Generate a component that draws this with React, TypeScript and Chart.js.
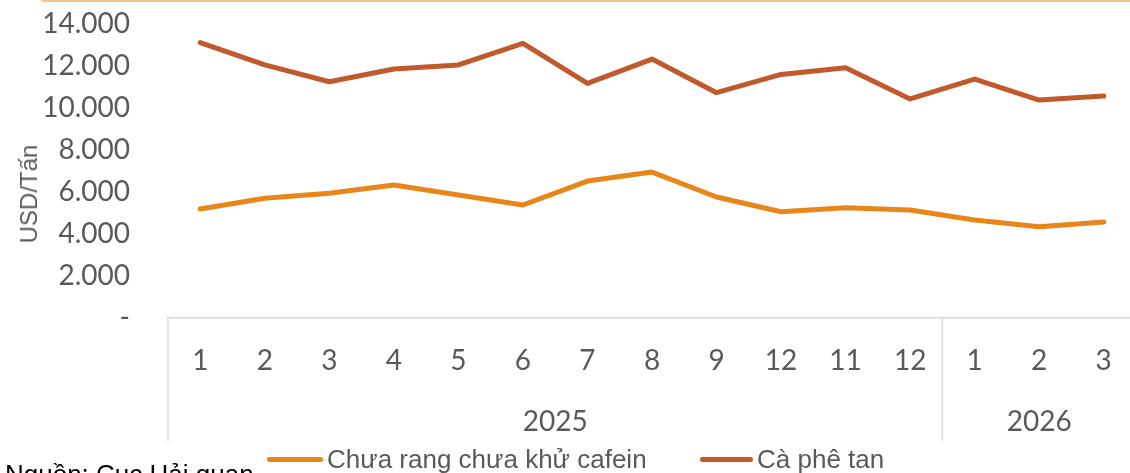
import React, { useEffect, useRef } from 'react';
import { Chart, registerables } from 'chart.js';

Chart.register(...registerables);

// ---- data ----
const months = ['1', '2', '3', '4', '5', '6', '7', '8', '9', '12', '11', '12', '1', '2', '3'];
const yearGroups = ['2025', '2026'];
const yearSpans = [12, 3];
const seriesNames = ['Chưa rang chưa khử cafein', 'Cà phê tan'];
const unroasted = [5190, 5700, 5940, 6330, 5860, 5380, 6520, 6950, 5760, 5060, 5250, 5140, 4670, 4340, 4570];
const instant = [13110, 12050, 11250, 11860, 12050, 13080, 11170, 12330, 10730, 11600, 11920, 10430, 11380, 10380, 10570];
const yMin = 0;
const yMax = 14000;
const yStep = 2000;
const yTitle = 'USD/Tấn';
const sourceNote = 'Nguồn: Cục Hải quan';

const ORANGE = '#E8861A';
const BROWN = '#C05A2C';
const TEXT = '#595959';
const AXIS = '#D9D9D9';
const TICK_FONT = 'Lato, "Open Sans", sans-serif';

const fmt = (v: number) =>
  v === 0 ? '-' : Math.round(v).toString().replace(/\B(?=(\d{3})+(?!\d))/g, '.');

const groupPlugin = {
  id: 'yearGroups',
  afterDraw(chart: any) {
    const x = chart.scales.x;
    const ctx = chart.ctx as CanvasRenderingContext2D;
    const top = x.top;
    ctx.save();
    ctx.font = `28px ${TICK_FONT}`;
    ctx.fillStyle = TEXT;
    ctx.textAlign = 'center';
    ctx.textBaseline = 'middle';
    const bounds: number[] = [x.left];
    let start = 0;
    yearSpans.forEach((span, g) => {
      const end = start + span - 1;
      const right =
        end === months.length - 1
          ? x.right
          : (x.getPixelForValue(end) + x.getPixelForValue(end + 1)) / 2;
      bounds.push(right);
      const cx = (x.getPixelForValue(start) + x.getPixelForValue(end)) / 2;
      ctx.fillText(yearGroups[g], cx, top + 104);
      start += span;
    });
    ctx.strokeStyle = AXIS;
    ctx.lineWidth = 1.5;
    bounds.forEach((b) => {
      ctx.beginPath();
      ctx.moveTo(b, top);
      ctx.lineTo(b, top + 123);
      ctx.stroke();
    });
    ctx.restore();
  },
};

function LineChart() {
  const ref = useRef<HTMLCanvasElement | null>(null);
  useEffect(() => {
    if (!ref.current) return;
    const chart = new Chart(ref.current, {
      type: 'line',
      data: {
        labels: months,
        datasets: [
          {
            label: seriesNames[0],
            data: unroasted,
            borderColor: ORANGE,
            backgroundColor: ORANGE,
            borderWidth: 5,
            pointRadius: 0,
            borderCapStyle: 'round',
            borderJoinStyle: 'round',
            tension: 0,
          },
          {
            label: seriesNames[1],
            data: instant,
            borderColor: BROWN,
            backgroundColor: BROWN,
            borderWidth: 5,
            pointRadius: 0,
            borderCapStyle: 'round',
            borderJoinStyle: 'round',
            tension: 0,
          },
        ],
      },
      options: {
        animation: false,
        responsive: false,
        devicePixelRatio: 1,
        layout: { padding: { top: 24, right: 4, bottom: 0, left: 0 } },
        plugins: { legend: { display: false }, tooltip: { enabled: false }, title: { display: false } },
        scales: {
          x: {
            offset: true,
            grid: { display: false, drawTicks: false },
            border: { display: true, color: AXIS, width: 1.5 },
            ticks: {
              color: TEXT,
              font: { family: TICK_FONT, size: 28 },
              padding: 26,
              maxRotation: 0,
              autoSkip: false,
            },
            afterFit(scale: any) {
              scale.height = 155;
              scale.paddingLeft = 0;
              scale.paddingRight = 0;
            },
          },
          y: {
            min: yMin,
            max: yMax,
            grid: { display: false, drawTicks: false },
            border: { display: false },
            ticks: {
              stepSize: yStep,
              color: TEXT,
              font: { family: TICK_FONT, size: 28 },
              padding: 38,
              callback: (v: any) => fmt(Number(v)),
            },
            afterFit(scale: any) {
              scale.width = 168;
              scale.paddingTop = 0;
              scale.paddingBottom = 0;
            },
          },
        },
      },
      plugins: [groupPlugin],
    } as any);
    return () => chart.destroy();
  }, []);
  return <canvas ref={ref} width={1140} height={473} style={{ display: 'block', width: 1140, height: 473 }} />;
}

export default function App() {
  const legendText: React.CSSProperties = {
    position: 'absolute',
    top: 446,
    fontFamily: '"Liberation Sans", Arial, sans-serif',
    fontSize: 26,
    lineHeight: '26px',
    color: TEXT,
    whiteSpace: 'nowrap',
  };
  const swatch = (left: number, width: number, color: string): React.CSSProperties => ({
    position: 'absolute',
    left,
    top: 457,
    width,
    height: 5,
    borderRadius: 3,
    background: color,
  });
  return (
    <div
      style={{
        position: 'absolute',
        left: 0,
        top: 0,
        width: 1130,
        height: 473,
        overflow: 'hidden',
        background: '#fff',
      }}
    >
      <LineChart />
      <div
        style={{
          position: 'absolute',
          left: 38,
          top: -12,
          width: 1200,
          height: 10,
          border: '2px solid #F4C38A',
          borderRadius: 12,
        }}
      />
      <div
        style={{
          position: 'absolute',
          left: 29,
          top: 194,
          transform: 'translate(-50%, -50%) rotate(-90deg)',
          fontFamily: '"Liberation Sans", Arial, sans-serif',
          fontSize: 24,
          color: TEXT,
          whiteSpace: 'nowrap',
        }}
      >
        {yTitle}
      </div>
      <div style={swatch(267, 56, ORANGE)} />
      <div style={{ ...legendText, left: 327 }}>{seriesNames[0]}</div>
      <div style={swatch(700, 53, BROWN)} />
      <div style={{ ...legendText, left: 757 }}>{seriesNames[1]}</div>
      <div
        style={{
          position: 'absolute',
          left: 5,
          top: 461,
          fontFamily: '"Liberation Sans", Arial, sans-serif',
          fontSize: 26,
          lineHeight: '26px',
          color: '#000',
          whiteSpace: 'nowrap',
        }}
      >
        {sourceNote}
      </div>
    </div>
  );
}
